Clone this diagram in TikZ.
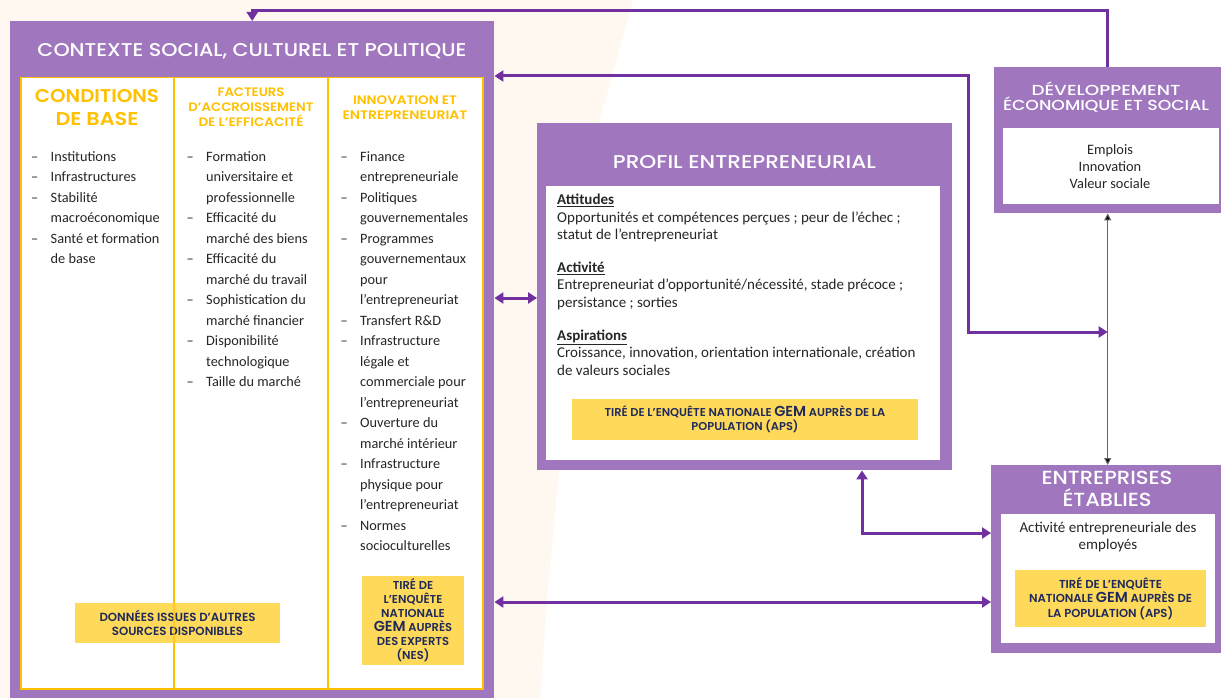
\documentclass[tikz,border=0pt]{standalone}
\usepackage{fontspec}
\setmainfont{Carlito}
\IfFontExistsTF{Poppins SemiBold}{\newfontfamily\popsb{Poppins SemiBold}}{\newfontfamily\popsbx{Poppins}\newcommand\popsb{\popsbx\bfseries}}
\IfFontExistsTF{Poppins Medium}{\newfontfamily\popm{Poppins Medium}}{\newcommand\popm{\popsb}}
\usetikzlibrary{arrows.meta}
\definecolor{boxpurple}{HTML}{A077BE}
\definecolor{arrowpurple}{HTML}{7030A0}
\definecolor{gold}{HTML}{FFC000}
\definecolor{yfill}{HTML}{FFD95A}
\definecolor{navy}{HTML}{1F2A5A}
\definecolor{txt}{HTML}{262626}
\definecolor{cream}{HTML}{FEF8F1}
\newcommand\fs{\rule{0pt}{10.5pt}}
\newcommand\li{\makebox[19.5pt][l]{–}}
\newcommand\lc{\hspace*{19.5pt}}
\newcommand\gem{{\fontsize{14.5}{14}\selectfont GEM}}
\newcommand\wfit[2]{\resizebox{#1}{\height}{#2}}
\tikzset{
  pbox/.style={fill=boxpurple, draw=none, inner sep=0pt, anchor=north west},
  wbox/.style={fill=white, draw=none, inner sep=0pt, anchor=north west},
  ybx/.style={fill=yfill, draw=none, inner sep=0pt, align=center, text=navy},
  ttl/.style={text=white, align=center, inner sep=0pt},
  hdr/.style={text=gold, align=center, inner sep=0pt},
  body/.style={text=txt, inner sep=0pt, font=\fontsize{14.3}{20.5}\selectfont, align=left, anchor=north west},
  pconn/.style={draw=arrowpurple, line width=3pt, {Triangle[length=9pt,width=11pt]}-{Triangle[length=9pt,width=11pt]}},
  pconnend/.style={draw=arrowpurple, line width=3pt, -{Triangle[length=9pt,width=11pt]}},
  bconn/.style={draw=black!60, line width=1pt, {Triangle[length=7pt,width=7pt,fill=black]}-{Triangle[length=7pt,width=7pt,fill=black]}},
}
\begin{document}
\begin{tikzpicture}[x=1pt,y=-1pt]
\useasboundingbox (0,0) rectangle (1221,698);
\fill[white] (0,0) rectangle (1221,698);
\fill[cream] (0,0) -- (633,0) -- (597,130) -- (575,300) -- (547,600) -- (540,698) -- (0,698) -- cycle;

% ---------- context box ----------
\node[pbox, minimum width=484pt, minimum height=678pt] (ctx) at (10,21) {};
\node[ttl, font=\popm\fontsize{18.5}{22}\selectfont] (ctxt) at (252,51) {\wfit{429pt}{CONTEXTE SOCIAL, CULTUREL ET POLITIQUE}};
\node[wbox, draw=gold, line width=1.5pt, minimum width=462pt, minimum height=611pt] (inner) at (20,77) {};

\node[hdr, font=\popsb\fontsize{18.5}{23}\selectfont] (h1) at (97,108) {\wfit{124pt}{CONDITIONS}\\\wfit{83pt}{DE BASE}};
\node[hdr, font=\popsb\fontsize{12.3}{15}\selectfont] (h2) at (251,107) {\wfit{67pt}{FACTEURS}\\\wfit{125pt}{D’ACCROISSEMENT}\\\wfit{105pt}{DE L’EFFICACITÉ}};
\node[hdr, font=\popsb\fontsize{12.3}{15}\selectfont] (h3) at (405,107.5) {\wfit{104pt}{INNOVATION ET}\\\wfit{125pt}{ENTREPRENEURIAT}};

\node[body] (l1) at (31,150.5) {\fs\li Institutions\\ \li Infrastructures\\ \li Stabilité\\ \lc macroéconomique\\ \li Santé et formation\\ \lc de base};
\node[body] (l2) at (186.5,150.5) {\fs\li Formation\\ \lc universitaire et\\ \lc professionnelle\\ \li Efficacité du\\ \lc marché des biens\\ \li Efficacité du\\ \lc marché du travail\\ \li Sophistication du\\ \lc marché financier\\ \li Disponibilité\\ \lc technologique\\ \li Taille du marché};
\node[body] (l3) at (340.5,150.5) {\fs\li Finance\\ \lc entrepreneuriale\\ \li Politiques\\ \lc gouvernementales\\ \li Programmes\\ \lc gouvernementaux\\ \lc pour\\ \lc l’entrepreneuriat\\ \li Transfert R\&D\\ \li Infrastructure\\ \lc légale et\\ \lc commerciale pour\\ \lc l’entrepreneuriat\\ \li Ouverture du\\ \lc marché intérieur\\ \li Infrastructure\\ \lc physique pour\\ \lc l’entrepreneuriat\\ \li Normes\\ \lc socioculturelles};

\node[ybx, minimum width=205pt, minimum height=40pt, font=\popsb\fontsize{11.8}{13.5}\selectfont] (src) at (177.5,623) {DONNÉES ISSUES D’AUTRES\\SOURCES DISPONIBLES};
\node[ybx, minimum width=102pt, minimum height=89pt, font=\popsb\fontsize{11.5}{14}\selectfont] (nes) at (413,620.5) {TIRÉ DE\\L’ENQUÊTE\\NATIONALE\\\gem{} AUPRÈS\\DES EXPERTS\\(NES)};
\draw[gold, line width=1.5pt] (174,77) -- (174,603);
\draw[gold, line width=1.5pt, opacity=0.6] (174,603) -- (174,643);
\draw[gold, line width=1.5pt] (174,643) -- (174,688);
\draw[gold, line width=1.5pt] (328,77) -- (328,688);

% ---------- profil ----------
\node[pbox, minimum width=415pt, minimum height=347pt] (prof) at (537,123) {};
\node[ttl, font=\popm\fontsize{18.5}{22}\selectfont] (proft) at (744.5,162.5) {\wfit{263pt}{PROFIL ENTREPRENEURIAL}};
\node[wbox, minimum width=394pt, minimum height=274pt] (profin) at (546,186) {};
\node[body, font=\fontsize{15}{17.3}\selectfont] (proftx) at (557,194) {\fs\textbf{\underline{Attitudes}}\\ Opportunités et compétences perçues ; peur de l’échec ;\\ statut de l’entrepreneuriat\\[16pt] \textbf{\underline{Activité}}\\ Entrepreneuriat d’opportunité/nécessité, stade précoce ;\\ persistance ; sorties\\[16pt] \textbf{\underline{Aspirations}}\\ Croissance, innovation, orientation internationale, création\\ de valeurs sociales};
\node[ybx, minimum width=346pt, minimum height=41pt, font=\popsb\fontsize{11.4}{14}\selectfont] (aps1) at (745,419.5) {TIRÉ DE L’ENQUÊTE NATIONALE \gem{} AUPRÈS DE LA\\POPULATION (APS)};

% ---------- developpement ----------
\node[pbox, minimum width=227pt, minimum height=146pt] (dev) at (994,67) {};
\node[ttl, font=\popm\fontsize{14.5}{15.5}\selectfont] (devt) at (1106,97) {\wfit{149pt}{DÉVELOPPEMENT}\\\wfit{206pt}{ÉCONOMIQUE ET SOCIAL}};
\node[wbox, minimum width=216pt, minimum height=76pt] (devin) at (1003,128) {};
\node[text=txt, inner sep=0pt, align=center, font=\fontsize{14.4}{17}\selectfont] (devtx) at (1110,167) {Emplois\\Innovation\\Valeur sociale};

% ---------- entreprises ----------
\node[pbox, minimum width=230pt, minimum height=188pt] (ent) at (991,465) {};
\node[ttl, font=\popm\fontsize{19}{21.7}\selectfont] (entt) at (1107,489) {\wfit{131pt}{ENTREPRISES}\\\wfit{89pt}{ÉTABLIES}};
\node[wbox, minimum width=214pt, minimum height=129pt] (entin) at (1001,514) {};
\node[text=txt, inner sep=0pt, align=center, font=\fontsize{15}{17}\selectfont] (enttx) at (1108,537) {Activité entrepreneuriale des\\employés};
\node[ybx, minimum width=191pt, minimum height=57pt, font=\popsb\fontsize{11.6}{14.5}\selectfont] (aps2) at (1110.5,598.5) {TIRÉ DE L’ENQUÊTE\\NATIONALE \gem{} AUPRÈS DE\\LA POPULATION (APS)};

% ---------- connectors ----------
\coordinate (j) at (dev.south |- 0,332);
\draw[pconnend] (dev.north) -- ++(0,-56) -| (ctx.north);
\draw[pconn] (ctx.east |- 0,76) -| (968,332) -- (j);
\draw[pconn] (ctx.east |- 0,298) -- (prof.west |- 0,298);
\draw[pconn] (ctx.east |- 0,602) -- (ent.west |- 0,602);
\draw[pconn] (prof.south -| 862,0) |- (ent.west |- 0,533);
\draw[bconn] (dev.south) -- (dev.south |- ent.north);
\end{tikzpicture}
\end{document}
